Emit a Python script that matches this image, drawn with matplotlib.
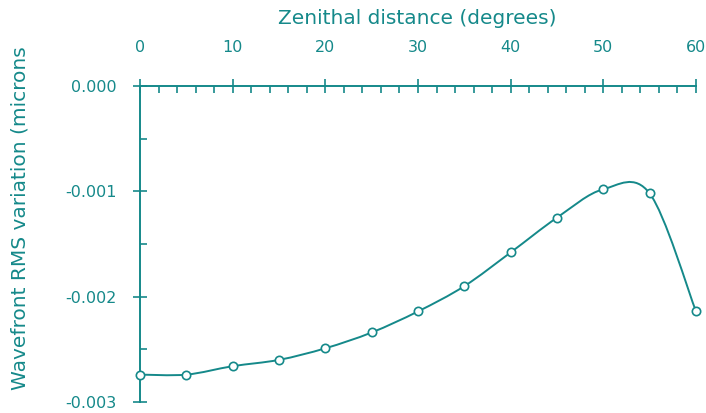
import matplotlib
matplotlib.use("Agg")
import matplotlib.pyplot as plt
import numpy as np
from matplotlib.path import Path
from matplotlib.patches import PathPatch
from matplotlib.ticker import MultipleLocator, FuncFormatter

# zenithal distance (deg) vs wavefront RMS variation (microns)
zenith = [0, 5, 10, 15, 20, 25, 30, 35, 40, 45, 50, 55, 60]
rms_var = [-0.00274, -0.00274, -0.00266, -0.00260, -0.00249, -0.00234,
           -0.00214, -0.00190, -0.00158, -0.00125, -0.00098, -0.00102,
           -0.00214]

teal = "#15898a"


def smooth_path(x, y):
    # Catmull-Rom spline through the points, as cubic bezier segments
    pts = np.column_stack([x, y]).astype(float)
    ext = np.vstack([pts[0], pts, pts[-1]])
    verts = [pts[0]]
    codes = [Path.MOVETO]
    for i in range(1, len(ext) - 2):
        p0, p1, p2, p3 = ext[i - 1], ext[i], ext[i + 1], ext[i + 2]
        c1 = p1 + (p2 - p0) / 6.0
        c2 = p2 - (p3 - p1) / 6.0
        verts += [c1, c2, p2]
        codes += [Path.CURVE4] * 3
    return Path(verts, codes)


fig = plt.figure(figsize=(7.06, 4.13), dpi=100)
ax = fig.add_axes([140 / 706, 1 - 402 / 413, 556 / 706, 316 / 413])

ax.add_patch(PathPatch(smooth_path(zenith, rms_var), fill=False,
                       edgecolor=teal, lw=1.4, zorder=2))
ax.plot(zenith, rms_var, ls="none", marker="o", ms=6, mfc="white",
        mec=teal, mew=1.2, zorder=3, clip_on=False)

ax.set_xlim(0, 60)
ax.set_ylim(-0.003, 0)

for s in ["bottom", "right"]:
    ax.spines[s].set_visible(False)
for s in ["top", "left"]:
    ax.spines[s].set_color(teal)
    ax.spines[s].set_linewidth(1.4)

ax.xaxis.tick_top()
ax.xaxis.set_major_locator(MultipleLocator(10))
ax.xaxis.set_minor_locator(MultipleLocator(2))
ax.yaxis.set_major_locator(MultipleLocator(0.001))
ax.yaxis.set_minor_locator(MultipleLocator(0.0005))
ax.yaxis.set_major_formatter(FuncFormatter(lambda v, p: f"{v:.3f}".replace("\u2212", "-")))

ax.tick_params(axis="x", which="major", direction="inout", length=10,
               width=1.2, color=teal, labelcolor=teal, labelsize=11.5, pad=17)
ax.tick_params(axis="x", which="minor", direction="in", length=5,
               width=1.2, color=teal)
ax.tick_params(axis="y", which="major", direction="inout", length=10,
               width=1.2, color=teal, labelcolor=teal, labelsize=11.5, pad=12)
ax.tick_params(axis="y", which="minor", direction="in", length=5,
               width=1.2, color=teal)

fig.text(417 / 706, 1 - 19 / 413, "Zenithal distance (degrees)",
         ha="center", va="center", color=teal, fontsize=14.5)
fig.text(20 / 706, 1 - 390 / 413, "Wavefront RMS variation (microns",
         ha="center", va="bottom", rotation=90, color=teal, fontsize=14.5)

fig.savefig("out.png", dpi=100)
